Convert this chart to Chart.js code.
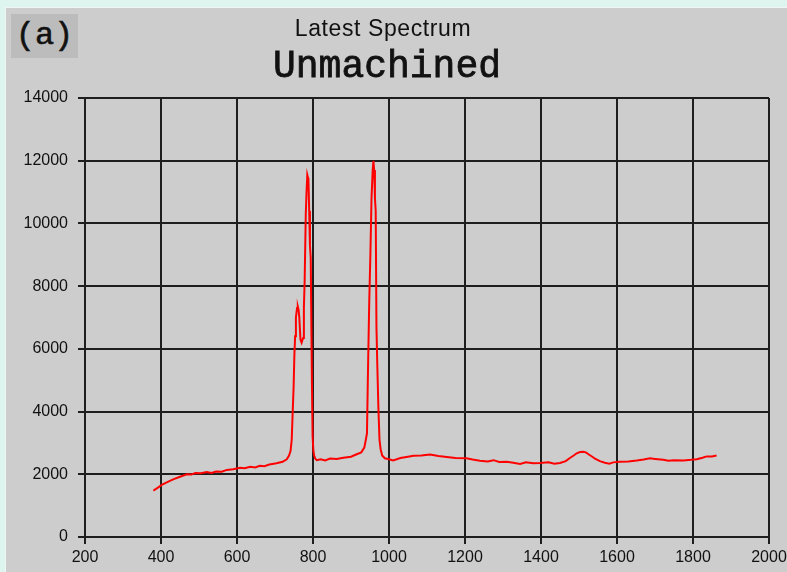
<!DOCTYPE html>
<html>
<head>
<meta charset="utf-8">
<script src="https://cdn.jsdelivr.net/npm/chart.js@4.4.1/dist/chart.umd.min.js"></script>
<style>
  html, body { margin: 0; padding: 0; }
  body { width: 787px; height: 572px; background: #def4ef; position: relative; overflow: hidden; }
  #panel { position: absolute; left: 5px; top: 7px; right: 0; bottom: 0; background: #cdcdcd;
           border-top: 1px solid #eef5f3; border-left: 1px solid #eef5f3; }
  #tag { position: absolute; left: 11px; top: 14px; width: 67px; height: 44px; background: #bcbcbc;
         font: 32px "Liberation Mono", monospace; color: #111; line-height: 44px; text-align: center;
         -webkit-text-stroke: 0.6px #111; }
  #title1 { position: absolute; left: 0; width: 766px; top: 15px; text-align: center;
            font: 23px "Liberation Sans", Arial, sans-serif; letter-spacing: 0.6px; color: #111; }
  #title2 { position: absolute; left: 0; width: 774px; top: 45px; text-align: center;
            font: 38px "Liberation Mono", monospace; color: #111; -webkit-text-stroke: 0.8px #111; }
  #wrap { position: absolute; left: 0; top: 0; width: 787px; height: 572px; }
</style>
</head>
<body>
<div id="panel"></div>
<div id="wrap"><canvas id="spec"></canvas></div>
<div id="tag">(a)</div>
<div id="title1">Latest Spectrum</div>
<div id="title2">Unmachined</div>
<script>
// 스펙트럼 데이터
const wavelength = [
  380, 390, 402, 415, 432, 450, 468, 480, 490, 505, 520, 533, 545, 560, 573, 590, 608, 620, 635, 648, 660, 672, 685,
  704, 720, 731, 737, 741, 744, 746, 749, 751, 753, 755, 758, 760, 762, 764, 767,
  770, 774, 776, 778, 781, 783, 785, 787, 788, 790, 792, 794, 797, 799, 801, 803,
  806, 810, 820, 832, 845, 862, 880, 900, 915, 927, 935, 939, 942, 945, 948, 951,
  954, 957, 959, 961, 963, 965, 967, 969, 972, 975, 978, 982, 989, 1000, 1011, 1030,
  1050, 1064, 1085, 1108, 1130, 1152, 1175, 1204, 1220, 1239, 1260, 1275, 1290, 1310, 1327, 1345, 1360, 1380, 1397, 1420,
  1435, 1450, 1465, 1476, 1486, 1494, 1503, 1511, 1518, 1525, 1535, 1542, 1555, 1568, 1580, 1590, 1608, 1630,
  1652, 1670, 1687, 1700, 1722, 1735, 1750, 1775, 1795, 1810, 1825, 1836, 1850, 1862,
];
const intensity = [
  1480, 1560, 1660, 1740, 1840, 1920, 2000, 1990, 2040, 2030, 2070, 2040, 2090, 2080, 2140, 2160, 2210, 2190, 2240, 2220, 2270, 2260, 2310,
  2350, 2400, 2480, 2600, 2750, 3100, 3800, 4800, 5800, 6400, 7000, 7300, 7350, 7250, 7000, 6300,
  6200, 6350, 7300, 8150, 10300, 11000, 11550, 11450, 11380, 10400, 9300, 8900, 5100, 3200, 2750, 2600,
  2500, 2450, 2480, 2440, 2500, 2490, 2530, 2560, 2640, 2700, 2850, 3100, 3300, 5500, 7500, 9000,
  10800, 11700, 12000, 11700, 10800, 10400, 6700, 5600, 4150, 3100, 2800, 2600, 2510, 2480, 2440, 2520,
  2560, 2590, 2600, 2630, 2580, 2550, 2520, 2510, 2470, 2430, 2410, 2450, 2390, 2400, 2370, 2330, 2380, 2350, 2360, 2380,
  2340, 2360, 2420, 2520, 2600, 2670, 2710, 2720, 2700, 2640, 2560, 2500, 2420, 2370, 2340, 2380, 2400, 2410,
  2440, 2470, 2510, 2490, 2460, 2430, 2450, 2440, 2460, 2480, 2530, 2570, 2570, 2600,
];
const xTicks = [200, 400, 600, 800, 1000, 1200, 1400, 1600, 1800, 2000];
const yTicks = [0, 2000, 4000, 6000, 8000, 10000, 12000, 14000];

const points = wavelength.map((w, i) => ({ x: w, y: intensity[i] }));
const tickFont = { family: '"Liberation Sans", Arial, sans-serif', size: 16 };
const gridStyle = { color: '#1e1e1e', lineWidth: 2, tickLength: 7, drawTicks: true };
const plain = v => String(v);

new Chart(document.getElementById('spec'), {
  type: 'scatter',
  data: {
    datasets: [{
      data: points,
      showLine: true,
      borderColor: '#ff0000',
      backgroundColor: '#ff0000',
      borderWidth: 2,
      pointRadius: 0,
      tension: 0,
    }],
  },
  options: {
    responsive: true,
    maintainAspectRatio: false,
    animation: false,
    layout: { autoPadding: false, padding: { left: 0, right: 18, top: 98, bottom: 0 } },
    plugins: { legend: { display: false }, tooltip: { enabled: false } },
    scales: {
      x: {
        type: 'linear', min: xTicks[0], max: xTicks[xTicks.length - 1],
        afterBuildTicks: s => { s.ticks = xTicks.map(v => ({ value: v })); },
        afterFit: s => { s.height = 35; s.paddingLeft = 0; s.paddingRight = 0; },
        ticks: { color: '#111', font: tickFont, padding: 4, maxRotation: 0, callback: plain },
        grid: gridStyle,
        border: { display: false },
      },
      y: {
        type: 'linear', min: yTicks[0], max: yTicks[yTicks.length - 1],
        afterBuildTicks: s => { s.ticks = yTicks.map(v => ({ value: v })); },
        afterFit: s => { s.width = 85; s.paddingTop = 0; s.paddingBottom = 0; },
        ticks: { color: '#111', font: tickFont, padding: 10, callback: plain },
        grid: gridStyle,
        border: { display: false },
      },
    },
  },
});
</script>
</body>
</html>
